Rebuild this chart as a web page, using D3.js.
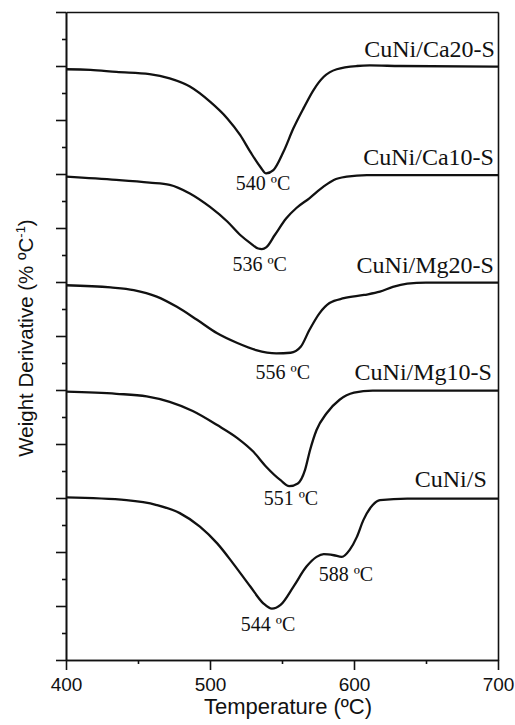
<!DOCTYPE html>
<html>
<head>
<meta charset="utf-8">
<script src="https://cdn.jsdelivr.net/npm/d3@7"></script>
<style>
  html, body { margin: 0; padding: 0; background: #fff; }
  svg { display: block; }
</style>
</head>
<body>
<div id="chart"></div>
<script>
// ---------------- DATA ----------------
const seriesNames = ["CuNi/Ca20-S", "CuNi/Ca10-S", "CuNi/Mg20-S", "CuNi/Mg10-S", "CuNi/S"];

// temperatures (ºC) and offset derivative values (arbitrary stacked units)
const tempCa20 = [400, 417, 435, 458, 472, 486, 500, 512, 521, 528, 535, 539, 544, 551, 558, 565, 572, 579, 588, 602, 611, 632, 700];
const valCa20  = [10.94, 10.93, 10.89, 10.85, 10.77, 10.62, 10.34, 10.03, 9.72, 9.41, 9.13, 9.01, 9.07, 9.41, 9.85, 10.22, 10.56, 10.80, 10.94, 11.00, 11.01, 11.00, 10.99];

const tempCa10 = [400, 435, 458, 472, 486, 500, 512, 521, 528, 533.5, 536, 539, 545, 553, 560, 569, 579, 586, 595, 609, 700];
const valCa10  = [8.95, 8.89, 8.84, 8.80, 8.64, 8.39, 8.12, 7.87, 7.72, 7.62, 7.61, 7.64, 7.87, 8.18, 8.37, 8.55, 8.77, 8.89, 8.95, 8.98, 8.98];

const tempMg20 = [400, 431, 447, 463, 477, 491, 505, 519, 532, 546, 556, 563, 569, 576, 583, 593, 607, 618, 627, 637, 650, 700];
const valMg20  = [6.94, 6.90, 6.85, 6.73, 6.54, 6.30, 6.05, 5.87, 5.74, 5.68, 5.69, 5.80, 6.11, 6.42, 6.61, 6.70, 6.76, 6.82, 6.91, 6.97, 6.99, 6.99];

const tempMg10 = [400, 435, 456, 472, 488, 505, 519, 530, 539, 549, 555, 561, 566, 569.5, 574, 581, 590, 600, 613, 700];
const valMg10  = [4.97, 4.93, 4.88, 4.78, 4.61, 4.35, 4.11, 3.86, 3.58, 3.33, 3.22, 3.27, 3.52, 3.89, 4.26, 4.57, 4.82, 4.95, 4.99, 4.99];

const tempS = [400, 442, 463, 479, 493, 505, 516, 528, 537, 543, 549, 558, 567, 574, 579, 586, 591.5, 597, 602, 606.5, 613, 618, 637, 700];
const valS  = [3.01, 2.96, 2.87, 2.72, 2.47, 2.16, 1.79, 1.36, 1.05, 0.95, 1.02, 1.36, 1.73, 1.91, 1.96, 1.94, 1.91, 2.04, 2.28, 2.59, 2.87, 2.96, 2.99, 2.99];

// series label anchors (data units, right-aligned)
const seriesLabelT = [697.9, 697.2, 697.2, 695.8, 692.2];
const seriesLabelV = [11.17, 9.17, 7.17, 5.185, 3.21];

// peak annotations (data units, centred)
const peakLabels = ["540 ºC", "536 ºC", "556 ºC", "551 ºC", "588 ºC", "544 ºC"];
const peakLabelT = [536.8, 534.5, 550.5, 556.2, 594.4, 540.3];
const peakLabelV = [8.70, 7.20, 5.20, 2.87, 1.47, 0.54];

// ticks
const xMajorTicks = [400, 500, 600, 700];
const xMinorTicks = [450, 550, 650];
const yMajorTicks = d3.range(0, 12.01, 1);
const yMinorTicks = d3.range(0.5, 12, 1);

// ---------------- CHART ----------------
const W = 515, H = 725;
const svg = d3.select("#chart").append("svg").attr("width", W).attr("height", H);

const x = d3.scaleLinear().domain([400, 700]).range([66, 498]);
const y = d3.scaleLinear().domain([0, 12]).range([660, 12]);

const sans = "'Liberation Sans', Arial, Helvetica, sans-serif";
const serif = "'Liberation Serif', 'Times New Roman', Times, serif";

function styleAxis(g) {
  g.selectAll("path.domain").attr("stroke", "#111").attr("stroke-width", 1.6);
  g.selectAll(".tick line").attr("stroke", "#111").attr("stroke-width", 1.6);
}

// bottom axis
const gxMaj = svg.append("g").attr("transform", `translate(0,${y(0)})`)
  .call(d3.axisBottom(x).tickValues(xMajorTicks).tickSize(10).tickSizeOuter(0).tickPadding(8).tickFormat(d3.format("d")));
gxMaj.selectAll("text").attr("font-family", sans).attr("font-size", 19).attr("fill", "#111");
styleAxis(gxMaj);
const gxMin = svg.append("g").attr("transform", `translate(0,${y(0)})`)
  .call(d3.axisBottom(x).tickValues(xMinorTicks).tickSize(4).tickSizeOuter(0).tickFormat(""));
styleAxis(gxMin);

// left axis
const gyMaj = svg.append("g").attr("transform", `translate(${x(400)},0)`)
  .call(d3.axisLeft(y).tickValues(yMajorTicks).tickSize(10).tickSizeOuter(0).tickFormat(""));
styleAxis(gyMaj);
const gyMin = svg.append("g").attr("transform", `translate(${x(400)},0)`)
  .call(d3.axisLeft(y).tickValues(yMinorTicks).tickSize(4).tickSizeOuter(0).tickFormat(""));
styleAxis(gyMin);

// top and right frame
const gTop = svg.append("g").attr("transform", `translate(0,${y(12)})`)
  .call(d3.axisTop(x).tickValues([]).tickSizeOuter(0));
styleAxis(gTop);
const gRight = svg.append("g").attr("transform", `translate(${x(700)},0)`)
  .call(d3.axisRight(y).tickValues([]).tickSizeOuter(0));
styleAxis(gRight);

// curves
const seriesT = [tempCa20, tempCa10, tempMg20, tempMg10, tempS];
const seriesV = [valCa20, valCa10, valMg20, valMg10, valS];
const line = d3.line().x(d => x(d[0])).y(d => y(d[1])).curve(d3.curveMonotoneX);

seriesT.forEach((ts, i) => {
  const pts = ts.map((t, j) => [t, seriesV[i][j]]);
  svg.append("path").datum(pts)
    .attr("d", line)
    .attr("fill", "none")
    .attr("stroke", "#111")
    .attr("stroke-width", 2.3)
    .attr("stroke-linejoin", "round");
});

// series labels
svg.append("g").selectAll("text").data(seriesNames).join("text")
  .attr("x", (d, i) => x(seriesLabelT[i]))
  .attr("y", (d, i) => y(seriesLabelV[i]))
  .attr("text-anchor", "end")
  .attr("font-family", serif)
  .attr("font-size", 24)
  .attr("fill", "#111")
  .text(d => d);

// peak labels
svg.append("g").selectAll("text").data(peakLabels).join("text")
  .attr("x", (d, i) => x(peakLabelT[i]))
  .attr("y", (d, i) => y(peakLabelV[i]))
  .attr("text-anchor", "middle")
  .attr("font-family", serif)
  .attr("font-size", 20)
  .attr("fill", "#111")
  .text(d => d);

// axis titles
svg.append("text")
  .attr("x", 288).attr("y", 714)
  .attr("text-anchor", "middle")
  .attr("font-family", sans).attr("font-size", 22).attr("fill", "#111")
  .text("Temperature (ºC)");

const yt = svg.append("text")
  .attr("transform", "translate(33,338) rotate(-90)")
  .attr("text-anchor", "middle")
  .attr("font-family", sans).attr("font-size", 20.5).attr("fill", "#111");
yt.append("tspan").text("Weight Derivative (% ºC");
yt.append("tspan").attr("dy", -8).attr("font-size", 13).text("-1");
yt.append("tspan").attr("dy", 8).text(")");
</script>
</body>
</html>
